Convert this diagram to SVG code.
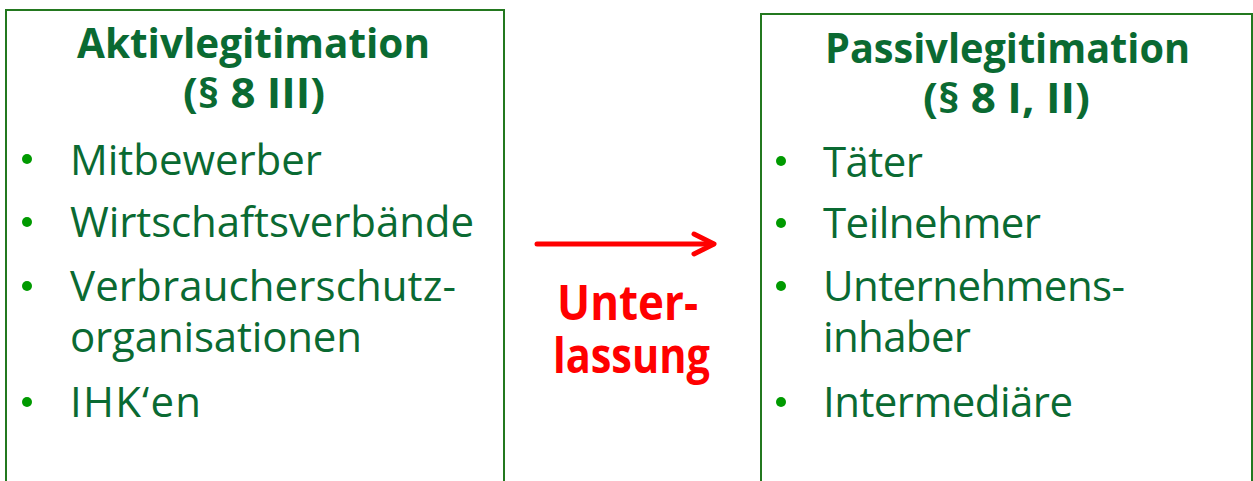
<svg xmlns="http://www.w3.org/2000/svg" width="1253" height="481" viewBox="0 0 1253 481">
<defs>
<style>
.box{fill:#fff;stroke:#23781f;stroke-width:2}
.title{font-family:"Open Sans","Noto Sans",sans-serif;font-weight:bold;font-size:42px;fill:#0a6a32;text-anchor:middle}
.item{font-family:"Open Sans","Noto Sans",sans-serif;font-size:42px;fill:#0a6a32}
.bullet{fill:#009a00}
.lbl{font-family:"Open Sans","Noto Sans",sans-serif;font-weight:bold;font-size:48px;fill:#ff0000;text-anchor:middle}
.conn{stroke:#ff0000;stroke-width:5;fill:none;stroke-linecap:round;stroke-linejoin:round}
</style>
</defs>
<rect width="1253" height="481" fill="#fff"/>
<g id="aktiv">
<rect class="box" x="6" y="10" width="498" height="490"/>
<text class="title" x="253.5" y="58" textLength="353" lengthAdjust="spacingAndGlyphs">Aktivlegitimation</text>
<text class="title" x="254" y="108" textLength="142" lengthAdjust="spacingAndGlyphs">(§ 8 III)</text>
<circle class="bullet" cx="27" cy="159" r="5"/>
<text class="item" x="70" y="175" textLength="252" lengthAdjust="spacing">Mitbewerber</text>
<circle class="bullet" cx="27" cy="222" r="5"/>
<text class="item" x="70" y="237" textLength="404" lengthAdjust="spacing">Wirtschaftsverbände</text>
<circle class="bullet" cx="27" cy="286" r="5"/>
<text class="item" x="70" y="301" textLength="386" lengthAdjust="spacing">Verbraucherschutz-</text>
<text class="item" x="70" y="352" textLength="292" lengthAdjust="spacing">organisationen</text>
<circle class="bullet" cx="27" cy="402" r="5"/>
<text class="item" x="70" y="417" textLength="131" lengthAdjust="spacing">IHK‘en</text>
</g>
<g id="passiv">
<rect class="box" x="761" y="14" width="491" height="490"/>
<text class="title" x="1007.5" y="63" textLength="365" lengthAdjust="spacingAndGlyphs">Passivlegitimation</text>
<text class="title" x="1006.5" y="113" textLength="167" lengthAdjust="spacingAndGlyphs">(§ 8 I, II)</text>
<circle class="bullet" cx="781" cy="161" r="5"/>
<text class="item" x="823" y="177" textLength="100" lengthAdjust="spacing">Täter</text>
<circle class="bullet" cx="781" cy="223" r="5"/>
<text class="item" x="823" y="238" textLength="218" lengthAdjust="spacing">Teilnehmer</text>
<circle class="bullet" cx="781" cy="286" r="5"/>
<text class="item" x="823" y="301" textLength="302" lengthAdjust="spacing">Unternehmens-</text>
<text class="item" x="823" y="352" textLength="148" lengthAdjust="spacing">inhaber</text>
<circle class="bullet" cx="781" cy="402" r="5"/>
<text class="item" x="823" y="417" textLength="250" lengthAdjust="spacing">Intermediäre</text>
</g>
<g id="connectors">
<path class="conn" d="M537 244 H713"/>
<path class="conn" d="M694 234 L714 244 L694 254"/>
</g>
<g id="label">
<text class="lbl" x="627.5" y="320" textLength="141" lengthAdjust="spacingAndGlyphs">Unter-</text>
<text class="lbl" x="631.5" y="373" textLength="157" lengthAdjust="spacingAndGlyphs">lassung</text>
</g>
</svg>
